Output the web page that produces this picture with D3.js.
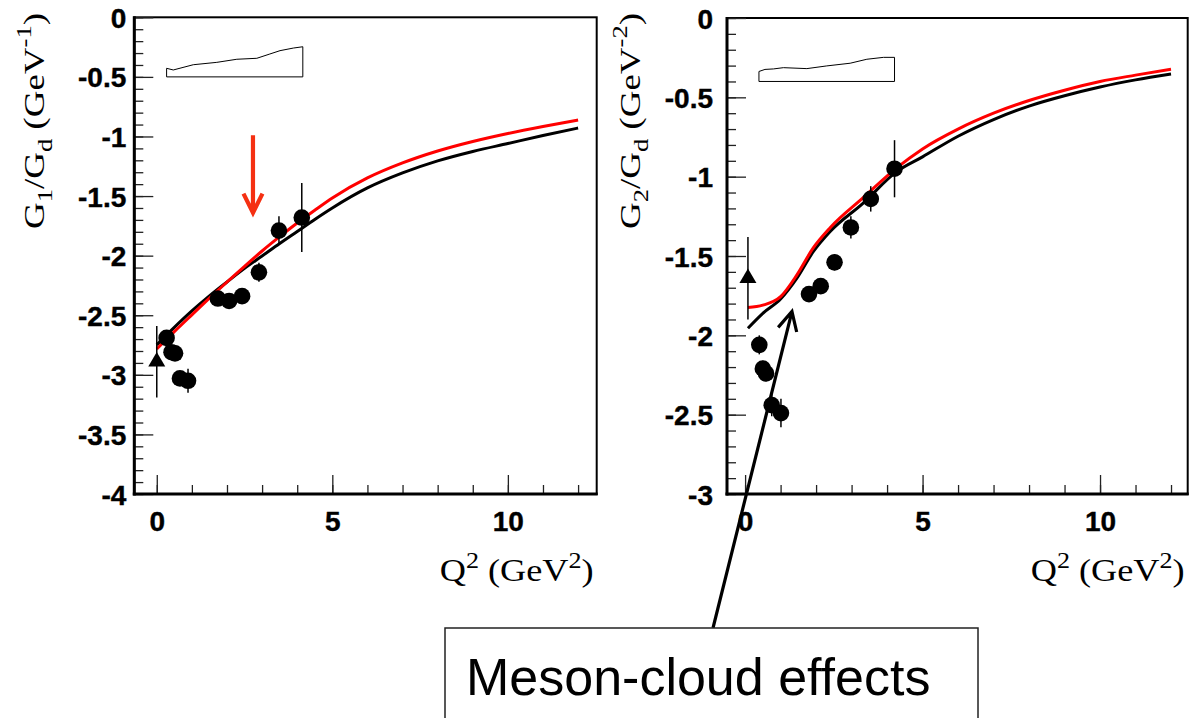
<!DOCTYPE html>
<html><head><meta charset="utf-8">
<script src="https://cdn.jsdelivr.net/npm/d3@7"></script>
<style>body{margin:0;background:#fff}svg{display:block}</style>
</head><body>
<svg id="chart" width="1199" height="718"></svg>
<script>
// ---------- data: left panel (G1/Gd) ----------
const q2G1 = [0.28, 0.42, 0.52, 0.66, 0.89, 1.74, 2.06, 2.43, 2.91, 3.48, 4.13];
const g1Values = [-2.69, -2.81, -2.82, -3.03, -3.05, -2.36, -2.38, -2.34, -2.14, -1.79, -1.68];
const g1Errors = [0.05, 0.04, 0.04, 0.05, 0.10, 0.04, 0.04, 0.04, 0.08, 0.12, 0.29];
const q2G1Tri = [0];
const g1TriValues = [-2.89];
const g1TriErrors = [0.30];
const curveQ2G1 = [0, 0.5, 1, 1.5, 2, 2.5, 3, 3.5, 4, 4.5, 5, 6, 7, 8, 9, 10, 11, 12];
const g1Red = [-2.783, -2.638, -2.497, -2.357, -2.221, -2.089, -1.961, -1.841, -1.726, -1.619, -1.516, -1.348, -1.222, -1.122, -1.042, -0.975, -0.916, -0.862];
const g1Black = [-2.749, -2.602, -2.464, -2.338, -2.221, -2.107, -2.003, -1.898, -1.797, -1.696, -1.600, -1.432, -1.306, -1.205, -1.126, -1.059, -0.992, -0.929];
const insetQ2G1 = [0.28, 0.47, 1.04, 1.71, 2.28, 2.85, 3.22, 3.51, 3.89, 4.16];
const insetG1 = [-0.428, -0.442, -0.398, -0.378, -0.352, -0.344, -0.308, -0.280, -0.258, -0.247];
const insetBaseG1 = -0.5;

// ---------- data: right panel (G2/Gd) ----------
const q2G2 = [0.40, 0.50, 0.59, 0.75, 1.01, 1.80, 2.13, 2.52, 2.98, 3.54, 4.21];
const g2Values = [-2.06, -2.21, -2.24, -2.44, -2.49, -1.74, -1.69, -1.54, -1.32, -1.14, -0.95];
const g2Errors = [0.06, 0.05, 0.05, 0.07, 0.09, 0.04, 0.04, 0.05, 0.07, 0.08, 0.18];
const q2G2Tri = [0.08];
const g2TriValues = [-1.64];
const g2TriErrors = [0.26];
const curveQ2G2 = [0.08, 0.5, 1.0, 1.46, 1.92, 2.39, 3.32, 4.27, 5, 6, 7, 8, 9, 10, 11, 12];
const g2Red = [-1.825, -1.81, -1.756, -1.619, -1.449, -1.323, -1.134, -0.945, -0.825, -0.70, -0.60, -0.52, -0.455, -0.40, -0.36, -0.323];
const g2Black = [-1.955, -1.861, -1.771, -1.640, -1.473, -1.347, -1.168, -0.968, -0.875, -0.745, -0.64, -0.555, -0.49, -0.435, -0.39, -0.353];
const insetQ2G2 = [0.39, 0.56, 0.80, 1.08, 1.74, 2.30, 2.96, 3.43, 3.90, 4.21];
const insetG2 = [-0.337, -0.324, -0.321, -0.313, -0.319, -0.302, -0.285, -0.260, -0.248, -0.248];
const insetBaseG2 = -0.4;

// ---------- ticks / labels ----------
const xMajorTicks = [0, 5, 10];
const xMinorTicks = [0,1,2,3,4,5,6,7,8,9,10,11,12];
const yMajorTicksG1 = [0, -0.5, -1, -1.5, -2, -2.5, -3, -3.5, -4];
const yMajorTicksG2 = [0, -0.5, -1, -1.5, -2, -2.5, -3];
const xTitleParts = [{t:"Q"},{t:"2",sup:true},{t:" (GeV"},{t:"2",sup:true},{t:")"}];
const yTitleG1 = [{t:"G"},{t:"1",sub:true},{t:"/G"},{t:"d",sub:true},{t:" (GeV"},{t:"-1",sup:true},{t:")"}];
const yTitleG2 = [{t:"G"},{t:"2",sub:true},{t:"/G"},{t:"d",sub:true},{t:" (GeV"},{t:"-2",sup:true},{t:")"}];
const annotationText = "Meson-cloud effects";

const svg = d3.select("#chart");
const SANS = "'Liberation Sans', Arial, Helvetica, sans-serif";
const SERIF = "'Liberation Serif', 'Times New Roman', Times, serif";

function richText(textSel, parts, size) {
  let shift = 0;
  parts.forEach(p => {
    const target = p.sub ? 0.28 * size : p.sup ? -0.42 * size : 0;
    const ts = textSel.append("tspan").text(p.t).attr("dy", target - shift);
    if (p.sub || p.sup) ts.attr("font-size", 0.72 * size);
    shift = target;
  });
}

function drawPanel(cfg) {
  const x = d3.scaleLinear().domain(cfg.xDomain).range([cfg.left, cfg.right]);
  const y = d3.scaleLinear().domain(cfg.yDomain).range([cfg.bottom, cfg.top]);
  const g = svg.append("g");

  g.append("rect").attr("x", cfg.left).attr("y", cfg.top)
    .attr("width", cfg.right - cfg.left).attr("height", cfg.bottom - cfg.top)
    .attr("fill", "none").attr("stroke", "#000").attr("stroke-width", 2);

  const yMinor = d3.range(0, Math.round(-cfg.yDomain[0] * 10) + 1).map(i => -i / 10);
  g.append("g").attr("transform", `translate(${cfg.left},0)`)
    .call(d3.axisLeft(y).tickValues(yMinor).tickSize(-9).tickSizeOuter(0).tickFormat(""))
    .call(a => a.select(".domain").remove())
    .call(a => a.selectAll("line").attr("stroke", "#222").attr("stroke-width", 1.3));
  g.append("g").attr("transform", `translate(0,${cfg.bottom})`)
    .call(d3.axisBottom(x).tickValues(xMinorTicks).tickSize(-9).tickSizeOuter(0).tickFormat(""))
    .call(a => a.select(".domain").remove())
    .call(a => a.selectAll("line").attr("stroke", "#222").attr("stroke-width", 1.3));

  g.append("g").attr("transform", `translate(${cfg.left},0)`)
    .call(d3.axisLeft(y).tickValues(cfg.yMajor).tickSize(-19).tickSizeOuter(0)
      .tickPadding(cfg.yPad).tickFormat(d => String(d)))
    .call(a => a.select(".domain").remove())
    .call(a => a.selectAll("line").attr("stroke", "#222").attr("stroke-width", 1.3))
    .call(a => a.selectAll("text").attr("font-family", SANS).attr("font-weight", "bold")
      .attr("font-size", 28).attr("fill", "#000").attr("stroke", "#000").attr("stroke-width", 0.4)
      .attr("dy", "0.36em"));
  g.append("g").attr("transform", `translate(0,${cfg.bottom})`)
    .call(d3.axisBottom(x).tickValues(xMajorTicks).tickSize(-19).tickSizeOuter(0)
      .tickPadding(17).tickFormat(d => String(d)))
    .call(a => a.select(".domain").remove())
    .call(a => a.selectAll("line").attr("stroke", "#222").attr("stroke-width", 1.3))
    .call(a => a.selectAll("text").attr("font-family", SANS).attr("font-weight", "bold")
      .attr("font-size", 28).attr("fill", "#000").attr("stroke", "#000").attr("stroke-width", 0.4));

  g.append("line").attr("x1", cfg.left).attr("x2", cfg.left).attr("y1", cfg.top - 1).attr("y2", cfg.bottom + 1.5)
    .attr("stroke", "#000").attr("stroke-width", 3);
  g.append("line").attr("x1", cfg.left - 1.5).attr("x2", cfg.right + 1).attr("y1", cfg.bottom).attr("y2", cfg.bottom)
    .attr("stroke", "#000").attr("stroke-width", 3);

  const xt = g.append("text").attr("x", cfg.right - 3).attr("y", 581)
    .attr("text-anchor", "end").attr("font-family", SERIF).attr("font-size", 31)
    .attr("textLength", 154).attr("lengthAdjust", "spacingAndGlyphs");
  richText(xt, xTitleParts, 31);
  const yt = g.append("text").attr("transform", `translate(${cfg.yTitleX},13) rotate(-90)`)
    .attr("text-anchor", "end").attr("font-family", SERIF).attr("font-size", 30)
    .attr("textLength", 216).attr("lengthAdjust", "spacingAndGlyphs");
  richText(yt, cfg.yTitle, 30);

  const insetPts = [[cfg.insetQ2[0], cfg.insetBase]]
    .concat(cfg.insetQ2.map((q, i) => [q, cfg.inset[i]]))
    .concat([[cfg.insetQ2[cfg.insetQ2.length - 1], cfg.insetBase]]);
  g.append("path")
    .attr("d", d3.line().x(d => x(d[0])).y(d => y(d[1])).curve(d3.curveLinearClosed)(insetPts))
    .attr("fill", "none").attr("stroke", "#000").attr("stroke-width", 1);

  const line = d3.line().x(d => x(d[0])).y(d => y(d[1])).curve(d3.curveMonotoneX);
  g.append("path").attr("d", line(cfg.curveQ2.map((q, i) => [q, cfg.black[i]])))
    .attr("fill", "none").attr("stroke", "#000").attr("stroke-width", 3);
  g.append("path").attr("d", line(cfg.curveQ2.map((q, i) => [q, cfg.red[i]])))
    .attr("fill", "none").attr("stroke", "#ff0000").attr("stroke-width", 3);

  const allQ = cfg.q2.concat(cfg.triQ2);
  const allV = cfg.values.concat(cfg.triValues);
  const allE = cfg.errors.concat(cfg.triErrors);
  g.append("g").selectAll("line").data(allQ).join("line")
    .attr("x1", d => x(d)).attr("x2", d => x(d))
    .attr("y1", (d, i) => y(allV[i] + allE[i])).attr("y2", (d, i) => y(allV[i] - allE[i]))
    .attr("stroke", "#000").attr("stroke-width", 1.5);

  g.append("g").selectAll("circle").data(cfg.q2).join("circle")
    .attr("cx", d => x(d)).attr("cy", (d, i) => y(cfg.values[i])).attr("r", 8.3).attr("fill", "#000");
  g.append("g").selectAll("path").data(cfg.triQ2).join("path")
    .attr("transform", (d, i) => `translate(${x(d)},${y(cfg.triValues[i])})`)
    .attr("d", d3.symbol(d3.symbolTriangle, 125)).attr("fill", "#000");

  return { x, y };
}

const left = drawPanel({
  left: 134.3, right: 596.7, top: 17.3, bottom: 494,
  xDomain: [-0.64, 12.53], yDomain: [-4, 0], yMajor: yMajorTicksG1, yPad: 8, yTitleX: 44,
  yTitle: yTitleG1,
  q2: q2G1, values: g1Values, errors: g1Errors,
  triQ2: q2G1Tri, triValues: g1TriValues, triErrors: g1TriErrors,
  curveQ2: curveQ2G1, red: g1Red, black: g1Black,
  insetQ2: insetQ2G1, inset: insetG1, insetBase: insetBaseG1
});
const right = drawPanel({
  left: 727, right: 1187.7, top: 18, bottom: 494,
  xDomain: [-0.51, 12.47], yDomain: [-3, 0], yMajor: yMajorTicksG2, yPad: 14, yTitleX: 640,
  yTitle: yTitleG2,
  q2: q2G2, values: g2Values, errors: g2Errors,
  triQ2: q2G2Tri, triValues: g2TriValues, triErrors: g2TriErrors,
  curveQ2: curveQ2G2, red: g2Red, black: g2Black,
  insetQ2: insetQ2G2, inset: insetG2, insetBase: insetBaseG2
});

// red arrow in left panel (annotation)
{
  const ax = left.x(2.74), y0 = left.y(-0.99), tip = left.y(-1.64);
  const wy = left.y(-1.48);
  svg.append("path")
    .attr("d", `M${ax},${y0}L${ax},${tip - 3}M${ax - 9.5},${wy}L${ax},${tip}L${ax + 9.5},${wy}`)
    .attr("fill", "none").attr("stroke", "#f53012").attr("stroke-width", 4.2)
    .attr("stroke-linejoin", "miter");
}

// annotation box + arrow
const boxX = 445, boxY = 628, boxW = 533;
{
  const tx = right.x(1.32), ty = right.y(-1.85);
  const tailX = 713, tailY = boxY;
  const ang = Math.atan2(tailY - ty, tailX - tx);
  const L = 21, spread = 27 * Math.PI / 180;
  const w1 = [tx + L * Math.cos(ang - spread), ty + L * Math.sin(ang - spread)];
  const w2 = [tx + L * Math.cos(ang + spread), ty + L * Math.sin(ang + spread)];
  svg.append("path")
    .attr("d", `M${tailX},${tailY}L${tx},${ty}M${w1[0]},${w1[1]}L${tx},${ty}L${w2[0]},${w2[1]}`)
    .attr("fill", "none").attr("stroke", "#000").attr("stroke-width", 3.2)
    .attr("stroke-linecap", "butt").attr("stroke-linejoin", "miter");
}
svg.append("rect").attr("x", boxX).attr("y", boxY).attr("width", boxW).attr("height", 120)
  .attr("fill", "#fff").attr("stroke", "#222").attr("stroke-width", 1.5);
svg.append("text").attr("x", 466).attr("y", 695)
  .attr("font-family", SANS).attr("font-size", 52).attr("fill", "#000")
  .text(annotationText);
</script>
</body></html>
